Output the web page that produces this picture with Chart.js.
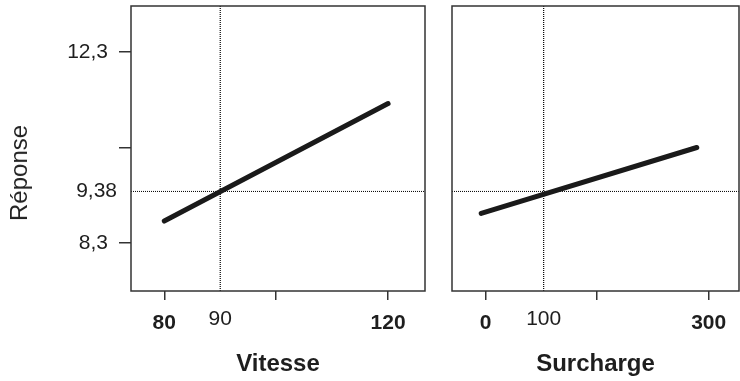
<!DOCTYPE html>
<html><head><meta charset="utf-8">
<script src="https://cdn.jsdelivr.net/npm/chart.js@4"></script>
<style>
html,body{margin:0;padding:0;background:#fff;width:740px;height:381px;overflow:hidden}
#wrapL{position:absolute;left:0;top:0;width:427px;height:381px}
#wrapR{position:absolute;left:440px;top:0;width:300px;height:381px}
#ytitle{position:absolute;left:19px;top:173px;transform:translate(-50%,-50%) rotate(-90deg);font:24px "Liberation Sans",Arial,sans-serif;color:#222;white-space:nowrap}
</style></head><body>
<div id="wrapL"><canvas id="cL" width="427" height="381"></canvas></div>
<div id="wrapR"><canvas id="cR" width="300" height="381"></canvas></div>
<div id="ytitle">Réponse</div>
<script>
// ---- data ----
const vitesseX = [80, 120];
const vitesseY = [8.76, 11.22];
const surchargeX = [-6, 284];
const surchargeY = [8.92, 10.30];
const refY = 9.38;
const refYLabel = '9,38';
const refVitesse = 90;
const refSurcharge = 78;
const yTicks = [8.3, 10.3, 12.3];
const yTickLabels = ['8,3', '', '12,3'];
const vitesseTicks = [80, 90, 100, 120];
const vitesseTickLabels = ['80', '90', '', '120'];
const surchargeTicks = [0, 78, 150, 300];
const surchargeTickLabels = ['0', '100', '', '300'];
const xTitleL = 'Vitesse';
const xTitleR = 'Surcharge';

// ---- styling / layout ----
const FAMILY = '"Liberation Sans", Arial, Helvetica, sans-serif';
const INK = '#1e1e1e';
const FRAME = '#333';
const DOT = '#000';
const Y_MIN = 7.295, Y_MAX = 13.263;

const boxPlugin = {
  id: 'box',
  afterLayout(chart) {
    // let the zero-width reference-label axis draw its label to the left of the frame
    const s = chart.scales.y2;
    if (s) { s.left = 0; }
  },
  afterDraw(chart) {
    const {ctx, chartArea: a} = chart;
    ctx.save();
    ctx.strokeStyle = FRAME;
    ctx.lineWidth = 1.5;
    ctx.strokeRect(a.left, a.top, a.right - a.left, a.bottom - a.top);
    ctx.restore();
  }
};

function noPad(s) { s.paddingTop = 0; s.paddingBottom = 0; s.paddingLeft = 0; s.paddingRight = 0; }

function xScale(min, max, ticks, labels, ref, title) {
  return {
    type: 'linear', position: 'bottom', min, max,
    afterBuildTicks: s => { s.ticks = ticks.map(v => ({value: v})); },
    afterFit: s => { s.height = 90; noPad(s); },
    grid: {
      drawOnChartArea: false, drawTicks: true, tickLength: 9, lineWidth: 1.5, color: FRAME,
      tickColor: c => (c.tick && c.tick.value === ref) ? 'rgba(0,0,0,0)' : FRAME
    },
    border: {display: false},
    ticks: {
      padding: 10, color: INK, autoSkip: false, maxRotation: 0, minRotation: 0,
      callback: (v, i) => labels[i],
      font: c => {
        const bold = !(c.tick && c.tick.value === ref);
        return {family: FAMILY, size: 21, weight: bold ? 'bold' : 'normal', lineHeight: bold ? 1.25 : 0.9};
      }
    },
    title: {display: true, text: title, color: INK, font: {family: FAMILY, size: 24, weight: 'bold', lineHeight: 1.2}, padding: {top: 0, bottom: 2}}
  };
}

function lineData(xs, ys) { return xs.map((x, i) => ({x, y: ys[i]})); }

function datasets(xs, ys, ref, xmin, xmax) {
  return [
    {data: lineData(xs, ys), borderColor: '#1a1a1a', borderWidth: 5, borderCapStyle: 'round', pointRadius: 0, fill: false, yAxisID: 'y'},
    {data: [{x: xmin, y: refY}, {x: xmax, y: refY}], borderColor: DOT, borderWidth: 1, borderDash: [1, 1], pointRadius: 0, fill: false, yAxisID: 'y'},
    {data: [{x: ref, y: Y_MIN}, {x: ref, y: Y_MAX}], borderColor: DOT, borderWidth: 1.2, borderDash: [1, 1], pointRadius: 0, fill: false, yAxisID: 'y'}
  ];
}

const common = {
  responsive: false, animation: false, devicePixelRatio: 1,
  plugins: {legend: {display: false}, tooltip: {enabled: false}},
  elements: {line: {tension: 0}}
};

// left panel
const LX_MIN = 74.05, LX_MAX = 126.6;
new Chart(document.getElementById('cL'), {
  type: 'line',
  data: {datasets: datasets(vitesseX, vitesseY, refVitesse, LX_MIN, LX_MAX)},
  options: Object.assign({}, common, {
    layout: {padding: {top: 6, right: 2, left: 0, bottom: 0}},
    scales: {
      x: xScale(LX_MIN, LX_MAX, vitesseTicks, vitesseTickLabels, refVitesse, xTitleL),
      y: {
        type: 'linear', position: 'left', weight: 1, min: Y_MIN, max: Y_MAX,
        afterBuildTicks: s => { s.ticks = yTicks.map(v => ({value: v})); },
        afterFit: s => { s.width = 131; noPad(s); },
        grid: {drawOnChartArea: false, drawTicks: true, tickLength: 12, lineWidth: 1.5, color: FRAME},
        border: {display: false},
        ticks: {padding: 11, color: INK, autoSkip: false, font: {family: FAMILY, size: 21}, callback: (v, i) => yTickLabels[i]}
      },
      y2: {
        type: 'linear', position: 'left', weight: 0, min: Y_MIN, max: Y_MAX,
        afterBuildTicks: s => { s.ticks = [{value: refY}]; },
        afterFit: s => { s.width = 0; noPad(s); },
        grid: {display: false, drawTicks: false},
        border: {display: false},
        ticks: {padding: 14, color: INK, autoSkip: false, font: {family: FAMILY, size: 21}, callback: () => refYLabel}
      }
    }
  }),
  plugins: [boxPlugin]
});

// right panel
const RX_MIN = -45.3, RX_MAX = 340.8;
new Chart(document.getElementById('cR'), {
  type: 'line',
  data: {datasets: datasets(surchargeX, surchargeY, refSurcharge, RX_MIN, RX_MAX)},
  options: Object.assign({}, common, {
    layout: {padding: {top: 6, right: 1, left: 12, bottom: 0}},
    scales: {
      x: xScale(RX_MIN, RX_MAX, surchargeTicks, surchargeTickLabels, refSurcharge, xTitleR),
      y: {type: 'linear', display: false, min: Y_MIN, max: Y_MAX}
    }
  }),
  plugins: [boxPlugin]
});
</script>
</body></html>
